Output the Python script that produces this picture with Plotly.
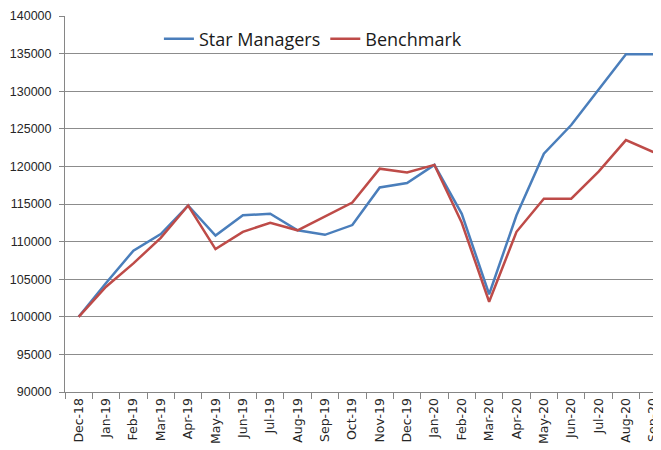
import plotly.graph_objects as go

months = ["Dec-18", "Jan-19", "Feb-19", "Mar-19", "Apr-19", "May-19", "Jun-19", "Jul-19",
          "Aug-19", "Sep-19", "Oct-19", "Nov-19", "Dec-19", "Jan-20", "Feb-20", "Mar-20",
          "Apr-20", "May-20", "Jun-20", "Jul-20", "Aug-20", "Sep-20"]
star_managers = [100000, 104500, 108800, 111000, 114800, 110800, 113500, 113700,
                 111500, 110900, 112200, 117200, 117800, 120200, 113700, 103000,
                 113500, 121700, 125500, 130200, 134900, 134900]
benchmark = [100000, 104000, 107100, 110500, 114800, 109000, 111300, 112500,
             111500, 113300, 115200, 119700, 119200, 120200, 112500, 102000,
             111300, 115700, 115700, 119300, 123500, 121900]
y_ticks = list(range(90000, 140001, 5000))

fig = go.Figure()
fig.add_trace(go.Scatter(x=months, y=star_managers, mode="lines", name="Star Managers",
                         line=dict(color="#4A7EBB", width=2.5)))
fig.add_trace(go.Scatter(x=months, y=benchmark, mode="lines", name="Benchmark",
                         line=dict(color="#BE4B48", width=2.5)))

# page body has an 8px default margin; margins below compensate for it
fig.update_layout(
    width=661, height=450,
    margin=dict(l=57, r=2, t=8, b=66),
    plot_bgcolor="white", paper_bgcolor="white",
    font=dict(family="Liberation Sans", size=12.5, color="#262626"),
    showlegend=True,
    legend=dict(orientation="h", x=0.156, xanchor="left", y=0.988, yanchor="top",
                font=dict(family="Open Sans", size=18, color="#1a1a1a"),
                bgcolor="rgba(0,0,0,0)", itemwidth=30),
    xaxis=dict(type="category", range=[-0.5, 21.5], showgrid=False, automargin=False,
               showline=True, linecolor="#868686", linewidth=1,
               ticks="outside", tickson="boundaries", ticklen=6, tickcolor="#868686",
               tickangle=-90, tickfont=dict(family="DejaVu Sans", size=12.5)),
    yaxis=dict(range=[90000, 140000], tickvals=y_ticks, ticktext=[str(v) for v in y_ticks],
               showgrid=True, gridcolor="#8c8c8c", gridwidth=1, automargin=False,
               showline=True, linecolor="#868686", linewidth=1,
               ticks="outside", ticklen=5, tickcolor="#868686", zeroline=False,
               ticklabelstandoff=5,
               tickfont=dict(family="Liberation Sans", size=12.5)),
)

fig.write_html("out.html")
